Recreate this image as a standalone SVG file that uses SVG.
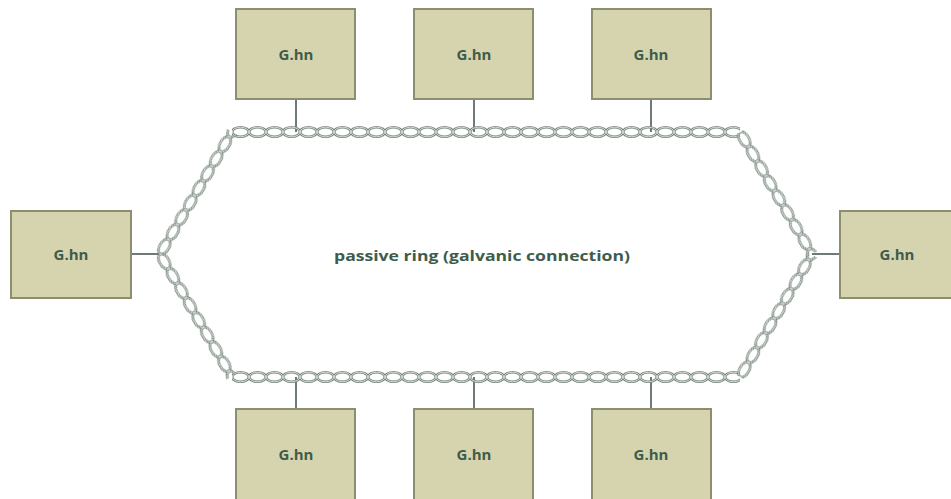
<svg xmlns="http://www.w3.org/2000/svg" width="951" height="499" viewBox="0 0 951 499">
<style>
.box{fill:#d6d4ae;stroke:#8c8f6e;stroke-width:2}
.lbl{font-family:"Open Sans","Liberation Sans",sans-serif;font-size:15px;font-weight:700;fill:#3e5c4c;text-anchor:middle}
.wire{stroke:#6e7a73;stroke-width:2;fill:none}
.chain{fill:url(#links)}
</style>
<defs>
<pattern id="links" patternUnits="userSpaceOnUse" x="0" y="-7" width="17" height="14">
<ellipse cx="8.5" cy="7" rx="8.3" ry="4.8" fill="none" stroke="#76867c" stroke-width="2.6"/>
<ellipse cx="8.5" cy="7" rx="8.3" ry="4.8" fill="none" stroke="#d8ddd9" stroke-width="1"/>
</pattern>
</defs>
<g id="connectors">
<line class="wire" x1="296" y1="99" x2="296" y2="132"/>
<line class="wire" x1="474" y1="99" x2="474" y2="132"/>
<line class="wire" x1="651" y1="99" x2="651" y2="132"/>
<line class="wire" x1="296" y1="377" x2="296" y2="409"/>
<line class="wire" x1="474" y1="377" x2="474" y2="409"/>
<line class="wire" x1="651" y1="377" x2="651" y2="409"/>
<line class="wire" x1="131" y1="254" x2="160" y2="254"/>
<line class="wire" x1="812" y1="254" x2="840" y2="254"/>
</g>
<g id="ring">
<g transform="translate(232,132)"><rect class="chain" x="0" y="-7" width="508" height="14"/></g>
<g transform="translate(232,377)"><rect class="chain" x="0" y="-7" width="508" height="14"/></g>
<g transform="translate(740,132) rotate(59.45)"><rect class="chain" x="0" y="-7" width="142" height="14"/></g>
<g transform="translate(740,377) rotate(-59.65)"><rect class="chain" x="0" y="-7" width="142" height="14"/></g>
<g transform="translate(160,254) rotate(59.65)"><rect class="chain" x="0" y="-7" width="142" height="14"/></g>
<g transform="translate(160,254) rotate(-59.45)"><rect class="chain" x="0" y="-7" width="142" height="14"/></g>
<text x="482" y="261" class="lbl" font-size="16" textLength="296" lengthAdjust="spacingAndGlyphs">passive ring (galvanic connection)</text>
</g>
<g id="n-top1"><rect class="box" x="236" y="9" width="119" height="90"/><text class="lbl" x="296" y="60">G.hn</text></g>
<g id="n-top2"><rect class="box" x="414" y="9" width="119" height="90"/><text class="lbl" x="474" y="60">G.hn</text></g>
<g id="n-top3"><rect class="box" x="592" y="9" width="119" height="90"/><text class="lbl" x="651" y="60">G.hn</text></g>
<g id="n-left"><rect class="box" x="11" y="211" width="120" height="87"/><text class="lbl" x="71" y="260">G.hn</text></g>
<g id="n-right"><rect class="box" x="840" y="211" width="120" height="87"/><text class="lbl" x="897" y="260">G.hn</text></g>
<g id="n-bot1"><rect class="box" x="236" y="409" width="119" height="100"/><text class="lbl" x="296" y="460">G.hn</text></g>
<g id="n-bot2"><rect class="box" x="414" y="409" width="119" height="100"/><text class="lbl" x="474" y="460">G.hn</text></g>
<g id="n-bot3"><rect class="box" x="592" y="409" width="119" height="100"/><text class="lbl" x="651" y="460">G.hn</text></g>
</svg>
